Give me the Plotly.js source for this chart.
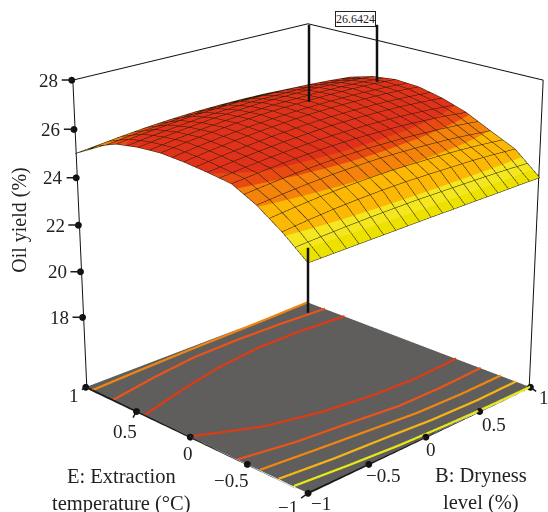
<!DOCTYPE html>
<html>
<head>
<meta charset="utf-8">
<script src="https://cdn.plot.ly/plotly-3.0.1.min.js"></script>
<style>
html,body{margin:0;padding:0;width:548px;height:512px;overflow:hidden;background:#fff}
#frame{position:absolute;left:0;top:0;width:548px;height:512px;overflow:hidden}
#plot{position:absolute}
</style>
</head>
<body>
<div id="frame"><div id="plot"></div></div>
<script>
const dryness = [-1,-0.8,-0.6,-0.4,-0.2,0,0.2,0.4,0.6,0.8,1];
const temperature = [-1,-0.8,-0.6,-0.4,-0.2,0,0.2,0.4,0.6,0.8,1];
// each row: one temperature level, values along dryness
const yieldByTemperature = [
 [23.93,23.94,23.95,23.96,23.97,23.98,23.98,23.99,23.99,24.00,24.00],
 [24.75,24.86,24.95,25.01,25.05,25.07,25.06,25.04,25.02,24.97,24.90],
 [25.43,25.53,25.61,25.67,25.70,25.71,25.68,25.64,25.58,25.49,25.38],
 [25.92,26.02,26.11,26.16,26.20,26.20,26.18,26.15,26.08,26.00,25.88],
 [26.05,26.17,26.27,26.35,26.40,26.44,26.44,26.42,26.38,26.31,26.22],
 [26.15,26.29,26.40,26.49,26.55,26.60,26.61,26.60,26.57,26.52,26.44],
 [26.20,26.34,26.45,26.54,26.60,26.63,26.64,26.64,26.62,26.58,26.50],
 [26.13,26.26,26.37,26.46,26.52,26.56,26.56,26.56,26.52,26.47,26.38],
 [25.97,26.09,26.18,26.27,26.31,26.34,26.33,26.31,26.27,26.20,26.10],
 [25.60,25.71,25.80,25.86,25.90,25.91,25.90,25.87,25.81,25.73,25.62],
 [25.00,25.01,25.02,25.02,25.02,25.02,25.02,25.01,25.01,25.00,25.00]
];
// floor contours: temperature position read at these dryness positions
const contourDryness = [-1,-0.6,-0.2,0.2,0.6,1];
const contourLevels = [
 {color:'#dd3a16', temp:[0,-0.21,-0.32,-0.38,-0.40,-0.38]},
 {color:'#dd3a16', temp:[0.42,0.53,0.62,0.67,0.67,0.64]},
 {color:'#e8541a', temp:[-0.42,-0.50,-0.547,-0.60,-0.605,-0.59]},
 {color:'#e8541a', temp:[0.725,0.80,0.855,0.865,0.855,0.83]},
 {color:'#f0860f', temp:[-0.607,-0.655,-0.70,-0.745,-0.76,-0.758]},
 {color:'#f0860f', temp:[0.93,0.95,0.965,0.975,0.985,1]},
 {color:'#f8b414', temp:[-0.763,-0.81,-0.84,-0.875,-0.89,-0.885]},
 {color:'#e8e818', temp:[-0.887,-0.93,-0.965,-0.985,-0.997,-1]}
];
const xyTicks = [-1,-0.5,0,0.5,1];
const xyTickText = ['\u22121','\u22120.5','0','0.5','1'];
const zTicks = [18,20,22,24,26,28];
const peakLabel = '26.6424';
const zFloor = 14.87, zTop = 28, zRangeTop = 28.2;

const K = 3.0, W = Math.round(548*K), H = Math.round(512*K);
const left = 308 - W/2, top_ = 236.2 - H/2;
const el = document.getElementById('plot');
el.style.left = left+'px'; el.style.top = top_+'px';
el.style.width = W+'px'; el.style.height = H+'px';
const px = v => (v-left)/W, py = v => 1-(v-top_)/H;

const FONT = 'Liberation Serif';
const lo = 23.5, hi = 26.7, f = v => (v-lo)/(hi-lo);
const bands = [[24.25,'#ede100'],[24.65,'#f4e61f'],[25.4,'#fdb705'],[25.82,'#f5820a'],[26.05,'#e84a12'],[99,'#e0311a']];
let cs = [], prev = 0;
bands.forEach(([lim,c])=>{const e=Math.min(1,f(lim)); cs.push([prev,c]); cs.push([e,c]); prev=e;});

const surface = {
  type:'surface', x:dryness, y:temperature, z:yieldByTemperature,
  cmin:lo, cmax:hi, colorscale:cs, showscale:false,
  lighting:{ambient:1,diffuse:0,specular:0,roughness:1,fresnel:0},
  contours:{
    x:{show:true,start:-1,end:1,size:0.1,color:'#1f1a08',width:1,highlight:false},
    y:{show:true,start:-1,end:1,size:0.1,color:'#1f1a08',width:1,highlight:false},
    z:{show:false,highlight:false}
  },
  hoverinfo:'skip'
};
const floorLines = contourLevels.map(c=>({
  type:'scatter3d',mode:'lines',hoverinfo:'skip',
  x:contourDryness,y:c.temp,z:contourDryness.map(()=>zFloor+0.02),
  line:{color:c.color,width:4.5}
}));
const box = {
  type:'scatter3d',mode:'lines',hoverinfo:'skip',line:{color:'#111',width:2},
  x:[-0.995,-0.995,0.995,0.995,null,0.995,0.995],
  y:[0.995,0.995,0.995,-0.995,null,-0.995,-0.995],
  z:[zFloor,zTop,zTop,zTop,null,zFloor,zTop]
};
const frontEdges = {
  type:'scatter3d',mode:'lines',hoverinfo:'skip',line:{color:'#1a1a1a',width:4},
  x:[-1,-1,1], y:[1,-1,-1], z:[zFloor,zFloor,zFloor]
};
const dots = {
  type:'scatter3d',mode:'markers',hoverinfo:'skip',
  marker:{color:'#111',size:4},
  x:[...xyTicks,...xyTicks.map(()=>-1),...zTicks.map(()=>-1)],
  y:[...xyTicks.map(()=>-1),...xyTicks,...zTicks.map(()=>1)],
  z:[...xyTicks.map(()=>zFloor),...xyTicks.map(()=>zFloor),...zTicks]
};
const ax = {
  showgrid:false,zeroline:false,showbackground:false,showspikes:false,
  showline:false,ticks:'',
  showticklabels:false,title:{text:''},
  range:[-1,1],tickvals:xyTicks,ticktext:xyTickText
};
const e = 5.72, th = 20.3*Math.PI/180;

const tick = (x,y,z,text,dx,dy)=>({x,y,z,text,showarrow:true,arrowhead:0,arrowwidth:1.5,arrowcolor:'#1a1a1a',
  ax:dx,ay:dy,startstandoff:2,standoff:0,xanchor:'center',yanchor:'middle',
  font:{family:FONT,size:19,color:'#222'}});
const bShift = [[13,10],[14,11],[5,12],[14,13],[14,10]];
const eShift = [[-20,14],[-16,16],[-2,16],[-11,20],[-12,8]];
const sceneNotes = [
  ...xyTicks.map((v,i)=>tick(v,-1,zFloor,xyTickText[i],bShift[i][0],bShift[i][1])),
  ...xyTicks.map((v,i)=>tick(-1,v,zFloor,xyTickText[i],eShift[i][0],eShift[i][1])),
  ...zTicks.map(v=>tick(-1,1,v,String(v),-23,0))
];

const layout = {
  width:W,height:H,margin:{l:0,r:0,t:0,b:0},
  paper_bgcolor:'rgba(0,0,0,0)',showlegend:false,
  scene:{
    domain:{x:[0,1],y:[0,1]},
    aspectmode:'manual',aspectratio:{x:1,y:1,z:1.0254},
    camera:{projection:{type:'perspective'},center:{x:0,y:0,z:0},up:{x:0,y:0,z:1},
      eye:{x:-e*Math.cos(th)/Math.SQRT2,y:-e*Math.cos(th)/Math.SQRT2,z:e*Math.sin(th)}},
    xaxis:{...ax},
    yaxis:{...ax},
    zaxis:{...ax,range:[zFloor,zRangeTop],tickvals:zTicks,ticktext:zTicks.map(String),
      showbackground:true,backgroundcolor:'#5f5e5c'},
    annotations:sceneNotes
  },
  shapes:[
    [309,25,309,102],[308,248,308,313],[377,25,377,82]
  ].map(s=>({type:'line',xref:'paper',yref:'paper',x0:px(s[0]),y0:py(s[1]),x1:px(s[2]),y1:py(s[3]),line:{color:'#111',width:2.5}})),
  annotations:[
    {text:'Oil yield (%)',x:px(20),y:py(220),textangle:-90,fs:20},
    {text:'E: Extraction<br>temperature (\u00b0C)',x:px(121),y:py(490),fs:20.5},
    {text:'B: Dryness<br>level (%)',x:px(481),y:py(489.5),fs:20.5},
    {text:peakLabel,x:px(355),y:py(19.5),fs:12,box:true}
  ].map(a=>({xref:'paper',yref:'paper',x:a.x,y:a.y,text:a.text,textangle:a.textangle||0,showarrow:false,
    xanchor:'center',yanchor:'middle',align:'center',
    font:{family:FONT,size:a.fs,color:'#222'},
    bgcolor:a.box?'#fff':undefined,bordercolor:a.box?'#222':undefined,borderwidth:a.box?1:0,borderpad:0}))
};
Plotly.newPlot(el,[surface,...floorLines,box,frontEdges,dots],layout,{displayModeBar:false});
</script>
</body>
</html>
